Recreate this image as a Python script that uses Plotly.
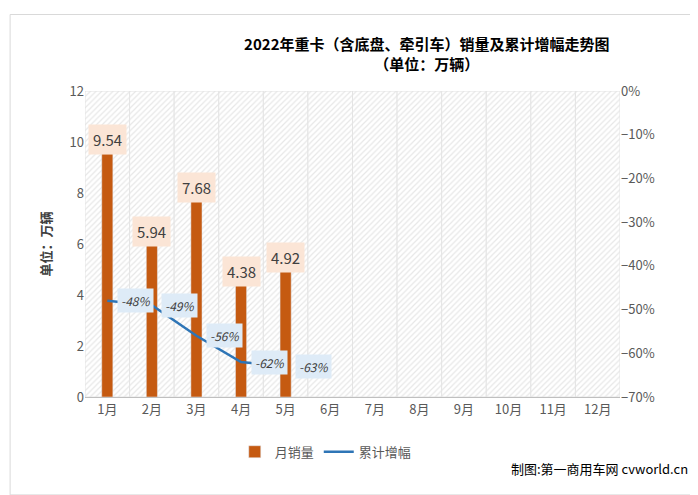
import plotly.graph_objects as go

months = ["1月", "2月", "3月", "4月", "5月", "6月", "7月", "8月", "9月", "10月", "11月", "12月"]
sales = [9.54, 5.94, 7.68, 4.38, 4.92]
growth = [-48, -49, -56, -62, -63]

fig = go.Figure()

# hatched background of the plot area
fig.add_trace(go.Bar(
    x=months, y=[12] * len(months), width=1, showlegend=False, hoverinfo="skip",
    marker=dict(color="white", line=dict(width=1, color="#e4e4e4"),
                pattern=dict(shape="/", fgcolor="#cfcfcf", size=4, solidity=0.3)),
))
fig.add_trace(go.Bar(
    x=months[:len(sales)], y=sales, name="月销量", width=0.25,
    marker=dict(color="#C55A11"),
))
fig.add_trace(go.Scatter(
    x=months[:len(growth)], y=growth, name="累计增幅", yaxis="y2",
    mode="lines", line=dict(color="#2E75B6", width=2.5),
))

for m, v in zip(months, sales):
    fig.add_annotation(x=m, y=v, text=f"{v:.2f}", showarrow=False, yshift=14,
                       bgcolor="#FBE5D6", font=dict(size=15, color="#404040"),
                       borderpad=4)
for m, v in zip(months, growth):
    fig.add_annotation(x=m, y=v, yref="y2", text=f"<i>{v}%</i>", showarrow=False,
                       xshift=28, bgcolor="#DEEBF7", font=dict(size=12, color="#404040"),
                       borderpad=3)

fig.update_layout(
    width=698, height=495, barmode="overlay", plot_bgcolor="white", paper_bgcolor="white",
    font=dict(family="Noto Sans CJK SC", color="#595959", size=13),
    margin=dict(l=77, r=86, t=83, b=106),
    title=dict(text="<b>2022年重卡（含底盘、牵引车）销量及累计增幅走势图<br>（单位：万辆）</b>",
               x=0.6, xanchor="center", y=0.915, font=dict(size=15, color="#000")),
    xaxis=dict(showline=True, linecolor="#bfbfbf", ticks=""),
    yaxis=dict(range=[0, 12], dtick=2, showgrid=False, zeroline=False,
               title=dict(text="<b>单位：万辆</b>", font=dict(size=13, color="#404040"))),
    yaxis2=dict(range=[-70, 0], dtick=10, overlaying="y", side="right", ticksuffix="%",
                showgrid=False, zeroline=False),
    legend=dict(orientation="h", x=0.45, xanchor="center", y=-0.13, font=dict(size=13)),
    showlegend=True,
)
fig.add_shape(type="rect", xref="paper", yref="paper", x0=-0.14, x1=1.155, y0=-0.32, y1=1.25,
              line=dict(color="#d9d9d9", width=1))
fig.add_annotation(text="制图:第一商用车网 cvworld.cn", xref="paper", yref="paper",
                   x=1.13, y=-0.27, xanchor="right", showarrow=False,
                   font=dict(size=13, color="#000"))
fig.write_html("out.html")
